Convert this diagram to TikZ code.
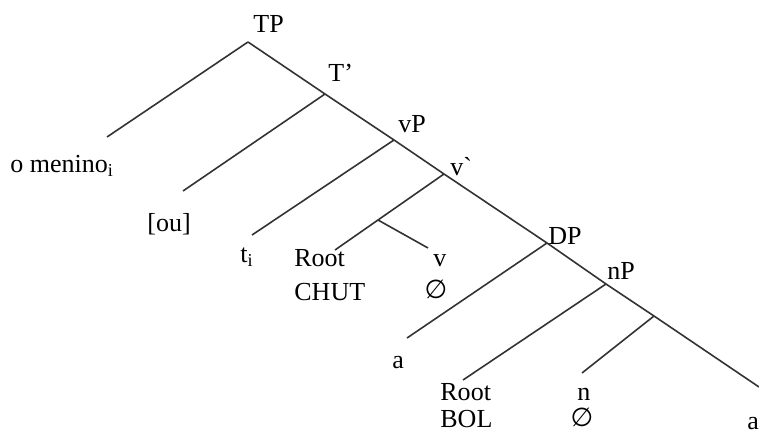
\documentclass[tikz,border=0pt]{standalone}
\usepackage{fontspec}
\setmainfont{Liberation Serif}
\newfontfamily\symfnt{DejaVu Sans}
\tikzset{
  lbl/.style={anchor=base west, inner sep=0pt, font=\fontsize{13}{15}\selectfont},
  lblc/.style={anchor=base, inner sep=0pt, font=\fontsize{13}{15}\selectfont},
  branch/.style={line width=0.8pt, draw=black!80}
}
\begin{document}
\begin{tikzpicture}[x=0.5pt,y=-0.5pt]
\useasboundingbox (0,0) rectangle (759,432);
% branching points
\coordinate (tp) at (248,42);
\coordinate (tbar) at (325,94);
\coordinate (vp) at (394,140);
\coordinate (vbar) at (444,174);
\coordinate (dp) at (547,243);
\coordinate (np) at (606,284);
\coordinate (nbar) at (654,316);
\coordinate (end) at (759,387);
\coordinate (rootv) at (378,220);
% leaf ends
\coordinate (e1) at (107,137);
\coordinate (e2) at (183,191);
\coordinate (e3) at (252,235);
\coordinate (e4) at (335,250);
\coordinate (e5) at (428,248);
\coordinate (e6) at (407,338);
\coordinate (e7) at (463,380);
\coordinate (e8) at (582,373);
% spine
\draw[branch] (tp) -- (tbar) -- (vp) -- (vbar) -- (dp) -- (np) -- (nbar) -- (end);
% left branches
\draw[branch] (tp) -- (e1);
\draw[branch] (tbar) -- (e2);
\draw[branch] (vp) -- (e3);
\draw[branch] (vbar) -- (rootv) -- (e4);
\draw[branch] (rootv) -- (e5);
\draw[branch] (dp) -- (e6);
\draw[branch] (np) -- (e7);
\draw[branch] (nbar) -- (e8);
% labels
\node[lbl] (lTP) at (253,33) {TP};
\node[lbl] (lTb) at (328,82) {T’};
\node[lbl] (lvP) at (398,133) {vP};
\node[lbl] (lvb) at (450,176) {v\textasciigrave};
\node[lbl] (lmen) at (10,173) {o menino\textsubscript{i}};
\node[lbl] (lou) at (147,232) {[ou]};
\node[lbl] (lti) at (240,263) {t\textsubscript{i}};
\node[lbl] (lroot1) at (294,267) {Root};
\node[lbl] (lchut) at (294,300) {CHUT};
\node[lbl] (lv) at (433,267) {v};
\node[lblc] (lnull1) at (436,299) {{\symfnt ∅}};
\node[lbl] (lDP) at (548,245) {DP};
\node[lbl] (la1) at (392,368) {a};
\node[lbl] (lnP) at (607,280) {nP};
\node[lbl] (lroot2) at (440,400) {Root};
\node[lbl] (lbol) at (440,427) {BOL};
\node[lbl] (ln) at (577,400) {n};
\node[lblc] (lnull2) at (582,426) {{\symfnt ∅}};
\node[lbl] (la2) at (747,429) {a};
\end{tikzpicture}
\end{document}
